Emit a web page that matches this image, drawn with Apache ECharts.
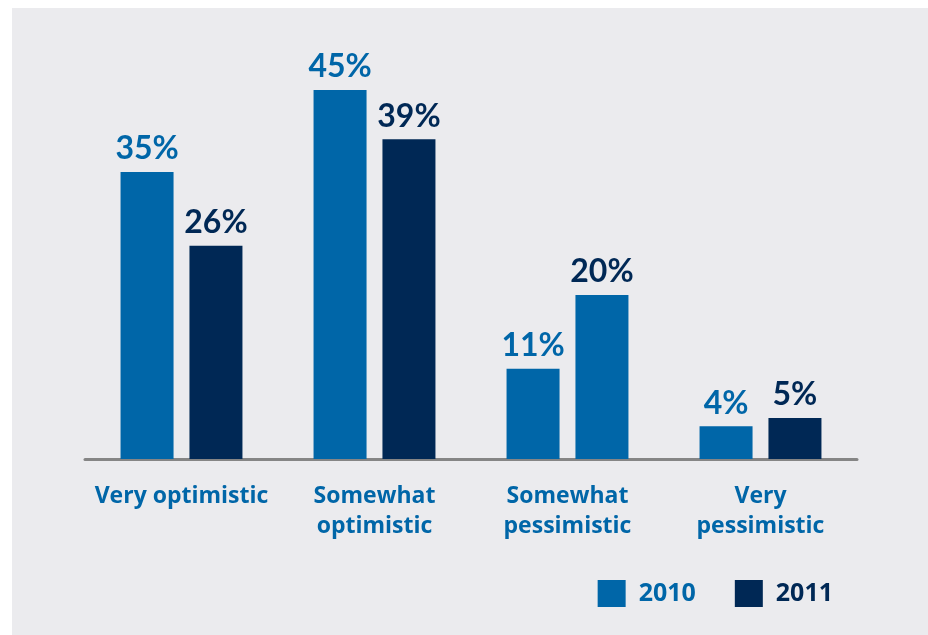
<!DOCTYPE html>
<html>
<head>
<meta charset="utf-8">
<style>
  html, body { margin: 0; padding: 0; background: #ffffff; }
  #chart { position: absolute; left: 12px; top: 8px; width: 916px; height: 627px; background: #ebebee; }
</style>
<script src="https://cdn.jsdelivr.net/npm/echarts@6/dist/echarts.min.js"></script>
</head>
<body>
<div id="chart"></div>
<script>
// Outlook categories and survey shares (%)
const categories = ['Very optimistic', 'Somewhat\noptimistic', 'Somewhat\npessimistic', 'Very\npessimistic'];
const years = ['2010', '2011'];
const values2010 = [35, 45, 11, 4];
const values2011 = [26, 39, 20, 5];

const LIGHT = '#0066a8';
const DARK = '#002855';
const FONT = 'Lato, "Open Sans", sans-serif';
const CAT_FONT = '"Open Sans", Lato, sans-serif';

const chart = echarts.init(document.getElementById('chart'), null, { renderer: 'canvas' });

function labelFor(color) {
  return {
    show: true,
    position: 'top',
    distance: 7,
    formatter: '{c}%',
    color: color,
    fontFamily: FONT,
    fontWeight: 'bold',
    fontSize: 32
  };
}

// The 2011 "Somewhat pessimistic" bar is filled with the 2010 colour
const data2011 = values2011.map((v, i) => i === 2 ? { value: v, itemStyle: { color: LIGHT } } : v);

chart.setOption({
  animation: false,
  grid: { left: 73, right: 71, top: 41, bottom: 176 },
  xAxis: {
    type: 'category',
    data: categories,
    axisLine: { lineStyle: { color: '#858585', width: 3 } },
    axisTick: { show: false },
    axisLabel: {
      color: LIGHT,
      fontFamily: CAT_FONT,
      fontWeight: 'bold',
      fontSize: 23,
      lineHeight: 30,
      margin: 22,
      interval: 0
    }
  },
  yAxis: {
    type: 'value',
    min: 0,
    max: 50,
    show: false,
    splitLine: { show: false }
  },
  legend: {
    right: 90,
    top: 567,
    itemWidth: 28,
    itemHeight: 27,
    itemGap: 39,
    icon: 'rect',
    data: [
      { name: '2010', textStyle: { color: LIGHT } },
      { name: '2011', textStyle: { color: DARK } }
    ],
    textStyle: {
      fontFamily: CAT_FONT,
      fontWeight: 'bold',
      fontSize: 25,
      padding: [0, 0, 0, 8]
    }
  },
  series: [
    {
      name: years[0],
      type: 'bar',
      data: values2010,
      barWidth: 53,
      barGap: '30%',
      itemStyle: { color: LIGHT },
      label: labelFor(LIGHT)
    },
    {
      name: years[1],
      type: 'bar',
      data: data2011,
      barWidth: 53,
      itemStyle: { color: DARK },
      label: labelFor(DARK)
    }
  ]
});
</script>
</body>
</html>
